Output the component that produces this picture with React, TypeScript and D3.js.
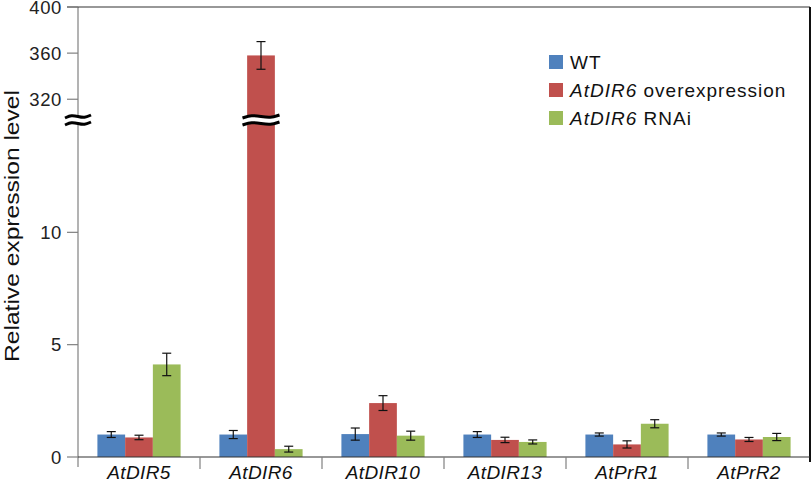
import React, { useEffect, useRef } from "react";
import * as d3 from "d3";

const genes = ["AtDIR5", "AtDIR6", "AtDIR10", "AtDIR13", "AtPrR1", "AtPrR2"];
const seriesKeys = ["WT", "OE", "RNAi"];
const wt = [1.0, 1.0, 1.02, 1.0, 1.0, 1.0];
const wtErr = [0.13, 0.18, 0.27, 0.13, 0.07, 0.07];
const oe = [0.87, 358, 2.4, 0.76, 0.56, 0.78];
const oeErr = [0.1, 12, 0.33, 0.12, 0.16, 0.09];
const rnai = [4.12, 0.35, 0.95, 0.67, 1.48, 0.89];
const rnaiErr = [0.5, 0.13, 0.2, 0.09, 0.18, 0.16];
const lowTicks = [0, 5, 10];
const highTicks = [320, 360, 400];
const colors = ["#4F81BD", "#C0504D", "#9BBB59"];

const W = 812;
const H = 481;
const font = "'Liberation Sans', Arial, sans-serif";

const drawChart = (el: SVGSVGElement) => {
  const svg = d3.select(el);
  svg.selectAll("*").remove();

  const left = 78, right = 810, base = 457, brk = 120, top = 7;
  const yLow = d3.scaleLinear().domain([0, 15]).range([base, brk]);
  const yHigh = d3.scaleLinear().domain([302, 400]).range([brk, top]);
  const y = (v: number) => (v <= 15 ? yLow(v) : yHigh(v));

  const x0 = d3.scaleBand().domain(genes).range([left, right]);
  const x1 = d3.scaleBand().domain(seriesKeys).range([0, x0.bandwidth()]).paddingOuter(0.7);

  const rows = genes.map((g, i) => ({
    gene: g,
    vals: [
      { key: "WT", v: wt[i], e: wtErr[i] },
      { key: "OE", v: oe[i], e: oeErr[i] },
      { key: "RNAi", v: rnai[i], e: rnaiErr[i] },
    ],
  }));

  // axes lines
  svg.append("line").attr("x1", left).attr("x2", left).attr("y1", top).attr("y2", 467)
    .attr("stroke", "#808080").attr("stroke-width", 1.2);
  svg.append("line").attr("x1", 67).attr("x2", right).attr("y1", top).attr("y2", top)
    .attr("stroke", "#333").attr("stroke-width", 1.2);
  svg.append("line").attr("x1", right).attr("x2", right).attr("y1", top).attr("y2", 462)
    .attr("stroke", "#111").attr("stroke-width", 2);

  // y ticks
  const ticks = [
    ...lowTicks.map(t => ({ t, yy: yLow(t) })),
    ...highTicks.map(t => ({ t, yy: yHigh(t) })),
  ];
  const tg = svg.append("g");
  tg.selectAll("line").data(ticks).join("line")
    .attr("x1", 67).attr("x2", left).attr("y1", d => d.yy).attr("y2", d => d.yy)
    .attr("stroke", "#808080").attr("stroke-width", 1.2);
  tg.selectAll("text").data(ticks).join("text")
    .attr("x", 62).attr("y", d => d.yy).attr("dy", "0.36em")
    .attr("text-anchor", "end").attr("font-family", font).attr("font-size", 18.5)
    .attr("letter-spacing", 0.6)
    .attr("fill", "#222").text(d => d.t);

  // bars
  const g = svg.append("g").selectAll("g").data(rows).join("g")
    .attr("transform", d => `translate(${x0(d.gene)},0)`);
  g.selectAll("rect").data(d => d.vals).join("rect")
    .attr("x", d => x1(d.key)!)
    .attr("width", x1.bandwidth())
    .attr("y", d => y(d.v))
    .attr("height", d => base - y(d.v))
    .attr("fill", (d, i) => colors[i]);

  // error bars
  const eb = g.selectAll("g.err").data(d => d.vals).join("g").attr("class", "err")
    .attr("transform", d => `translate(${x1(d.key)! + x1.bandwidth() / 2},0)`);
  eb.append("line").attr("y1", d => y(d.v + d.e)).attr("y2", d => y(d.v - d.e))
    .attr("stroke", "#111").attr("stroke-width", 1.2);
  eb.append("line").attr("x1", -4.5).attr("x2", 4.5)
    .attr("y1", d => y(d.v + d.e)).attr("y2", d => y(d.v + d.e))
    .attr("stroke", "#111").attr("stroke-width", 1.2);
  eb.append("line").attr("x1", -4.5).attr("x2", 4.5)
    .attr("y1", d => y(d.v - d.e)).attr("y2", d => y(d.v - d.e))
    .attr("stroke", "#111").attr("stroke-width", 1.2);

  // x axis
  svg.append("line").attr("x1", left).attr("x2", right).attr("y1", base).attr("y2", base)
    .attr("stroke", "#333").attr("stroke-width", 1.2);
  const bounds = genes.slice(1).map(gn => x0(gn)!);
  svg.append("g").selectAll("line").data(bounds).join("line")
    .attr("x1", d => d).attr("x2", d => d).attr("y1", base).attr("y2", 469)
    .attr("stroke", "#808080").attr("stroke-width", 1.2);
  svg.append("g").selectAll("text").data(genes).join("text")
    .attr("x", d => x0(d)! + x0.bandwidth() / 2).attr("y", 479)
    .attr("text-anchor", "middle").attr("font-family", font).attr("font-size", 19)
    .attr("letter-spacing", 0.4)
    .attr("font-style", "italic").attr("fill", "#111").text(d => d);

  // break marks
  const brkMark = (cx: number, w: number) => {
    const bg = svg.append("g").attr("transform", `translate(${cx},${brk})`);
    const wave = (dy: number) => {
      const pts: [number, number][] = [
        [-w / 2, dy + 1.5], [-w / 4, dy - 1.5], [0, dy], [w / 4, dy + 1.5], [w / 2, dy - 1.5],
      ];
      return d3.line().curve(d3.curveBasis)(pts)!;
    };
    bg.append("rect").attr("x", -w / 2).attr("y", -3).attr("width", w).attr("height", 6).attr("fill", "#fff");
    [-3.5, 3.5].forEach(dy => {
      bg.append("path").attr("d", wave(dy)).attr("fill", "none")
        .attr("stroke", "#000").attr("stroke-width", 3);
    });
  };
  brkMark(left, 26);
  brkMark(x0("AtDIR6")! + x1("OE")! + x1.bandwidth() / 2, 37);

  // legend
  const legend = [
    { it: "", rest: "WT" },
    { it: "AtDIR6", rest: " overexpression" },
    { it: "AtDIR6", rest: " RNAi" },
  ];
  const lg = svg.append("g").selectAll("g").data(legend).join("g")
    .attr("transform", (d, i) => `translate(549,${62 + i * 28})`);
  lg.append("rect").attr("x", 0).attr("y", -7).attr("width", 14).attr("height", 14)
    .attr("fill", (d, i) => colors[i]);
  const lt = lg.append("text").attr("x", 21).attr("dy", "0.36em")
    .attr("font-family", font).attr("font-size", 19).attr("letter-spacing", 1)
    .attr("fill", "#111");
  lt.append("tspan").attr("font-style", "italic").text(d => d.it);
  lt.append("tspan").text(d => d.rest);

  // y label
  svg.append("text").attr("transform", `translate(19,226) rotate(-90)`)
    .attr("text-anchor", "middle").attr("font-family", font).attr("font-size", 21)
    .attr("textLength", 272).attr("lengthAdjust", "spacingAndGlyphs")
    .attr("fill", "#111").text("Relative expression level");
};

const App = () => {
  const ref = useRef<SVGSVGElement>(null);
  useEffect(() => {
    if (ref.current) drawChart(ref.current);
  }, []);
  return (
    <svg ref={ref} width={W} height={H}
      style={{ position: "absolute", left: 0, top: 0, background: "#fff" }} />
  );
};

export default App;
